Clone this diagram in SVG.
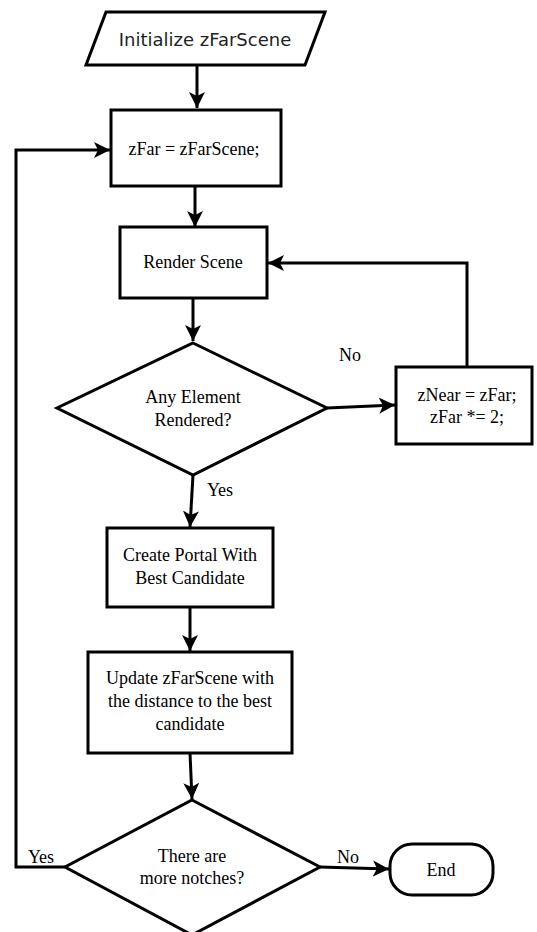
<svg xmlns="http://www.w3.org/2000/svg" width="537" height="932" viewBox="0 0 537 932">
<style>
.n{fill:#fff;stroke:#000;stroke-width:3}
.c{fill:none;stroke:#000;stroke-width:3}
.t{font-family:"Liberation Serif","Times New Roman",serif;font-size:18px;fill:#000;text-anchor:middle}
.s{font-family:"DejaVu Sans","Liberation Sans",sans-serif;font-size:18px;fill:#222;text-anchor:middle}
</style>
<defs>
<marker id="ah" markerUnits="userSpaceOnUse" markerWidth="20" markerHeight="20" viewBox="0 0 20 20" refX="16" refY="10" orient="auto">
<path d="M0,2 L16,10 L0,18 L4,10 Z" fill="#000"/>
</marker>
</defs>
<rect width="537" height="932" fill="#fff"/>
<g id="connectors">
<path class="c" d="M197,65 V108" marker-end="url(#ah)"/>
<path class="c" d="M195,186 V227" marker-end="url(#ah)"/>
<path class="c" d="M193,298 V341" marker-end="url(#ah)"/>
<path class="c" d="M327,408 L395,405" marker-end="url(#ah)"/>
<path class="c" d="M467,367 V263 H268" marker-end="url(#ah)"/>
<path class="c" d="M193,475 L190,527" marker-end="url(#ah)"/>
<path class="c" d="M190,607 V651" marker-end="url(#ah)"/>
<path class="c" d="M190,753 L192,799" marker-end="url(#ah)"/>
<path class="c" d="M65,867 H16 V150 H110" marker-end="url(#ah)"/>
<path class="c" d="M320,867 L389,869" marker-end="url(#ah)"/>
<text class="t" x="350" y="361">No</text>
<text class="t" x="220" y="496">Yes</text>
<text class="t" x="41" y="863">Yes</text>
<text class="t" x="348" y="863">No</text>
</g>
<g id="init">
<polygon class="n" points="106,12 325,12 305,65 86,65"/>
<text class="s" x="205" y="46">Initialize zFarScene</text>
</g>
<g id="setfar">
<rect class="n" x="111" y="110" width="170" height="76"/>
<text class="t" x="194" y="155">zFar = zFarScene;</text>
</g>
<g id="render">
<rect class="n" x="120" y="227" width="147" height="71"/>
<text class="t" x="193" y="268">Render Scene</text>
</g>
<g id="any">
<polygon class="n" points="193,343 327,408 193,475 57,408"/>
<text class="t" x="193" y="403">Any Element</text>
<text class="t" x="193" y="426">Rendered?</text>
</g>
<g id="znear">
<rect class="n" x="396" y="367" width="136" height="77"/>
<text class="t" x="467" y="401">zNear = zFar;</text>
<text class="t" x="467" y="423">zFar *= 2;</text>
</g>
<g id="portal">
<rect class="n" x="107" y="528" width="166" height="79"/>
<text class="t" x="190" y="561">Create Portal With</text>
<text class="t" x="190" y="584">Best Candidate</text>
</g>
<g id="update">
<rect class="n" x="88" y="652" width="204" height="101"/>
<text class="t" x="190" y="684">Update zFarScene with</text>
<text class="t" x="190" y="707">the distance to the best</text>
<text class="t" x="190" y="730">candidate</text>
</g>
<g id="more">
<polygon class="n" points="192,800 320,867 192,935 65,867"/>
<text class="t" x="192" y="862">There are</text>
<text class="t" x="192" y="884">more notches?</text>
</g>
<g id="end">
<rect class="n" x="390" y="844" width="103" height="51" rx="22" ry="22"/>
<text class="t" x="441" y="876">End</text>
</g>
</svg>
